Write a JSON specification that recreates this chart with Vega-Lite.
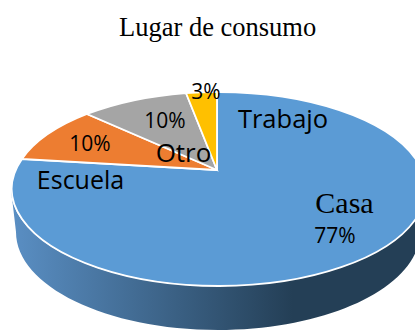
{"$schema":"https://vega.github.io/schema/vega-lite/v6.json","width":415,"height":331,"padding":0,"autosize":{"type":"none"},"background":"white","config":{"view":{"stroke":null}},"title":{"text":"Lugar de consumo","font":"Liberation Serif","fontSize":26.5,"fontWeight":"normal","color":"#000000","anchor":"start","frame":"group","dx":119,"dy":45},"data":{"values":[{"slice":"Casa","share":0.77},{"slice":"Escuela","share":0.10},{"slice":"Otro","share":0.10},{"slice":"Trabajo","share":0.03}]},"layer":[{"transform":[{"filter":"datum.slice==='Casa'"}],"mark":{"type":"point","filled":true,"opacity":1,"size":4,"shape":"M-196.5 23.5 L-191.5 66.5 A202 98 0 0 0 212.5 66.5 L217.5 23.5 A207 97 0 0 1 -196.5 23.5 Z","fill":{"gradient":"linear","x1":0,"y1":0,"x2":1,"y2":0,"stops":[{"offset":0,"color":"#5a8fc4"},{"offset":0.68,"color":"#243f56"},{"offset":1,"color":"#243f56"}]}}},{"mark":{"type":"point","filled":true,"opacity":1,"size":4,"stroke":"white","strokeWidth":1.8},"encoding":{"shape":{"field":"slice","type":"nominal","legend":null,"scale":{"domain":["Casa","Escuela","Otro","Trabajo"],"range":["M9.5 4.5 L9.5 -73.5 A207 97 0 1 1 -185.5 -6.5 Z","M9.5 4.5 L-185.5 -6.5 A207 97 0 0 1 -120.5 -51.5 Z","M9.5 4.5 L-120.5 -51.5 A207 97 0 0 1 -21.5 -72.5 Z","M9.5 4.5 L-21.5 -72.5 A207 97 0 0 1 9.5 -73.5 Z"]}},"fill":{"field":"slice","type":"nominal","legend":null,"scale":{"domain":["Casa","Escuela","Otro","Trabajo"],"range":["#5b9bd5","#ed7d31","#a5a5a5","#ffc000"]}}}},{"transform":[{"filter":"datum.slice==='Trabajo'"}],"mark":{"type":"text","font":"Open Sans","fontSize":25.5,"color":"#000000","dx":75.5,"dy":-45.5},"encoding":{"text":{"field":"slice"}}},{"transform":[{"filter":"datum.slice==='Casa'"}],"mark":{"type":"text","font":"Liberation Serif","fontSize":30,"color":"#000000","dx":137,"dy":38.5},"encoding":{"text":{"field":"slice"}}},{"transform":[{"filter":"datum.slice==='Escuela'"}],"mark":{"type":"text","font":"Open Sans","fontSize":25,"color":"#000000","dx":-127,"dy":15.5},"encoding":{"text":{"field":"slice"}}},{"transform":[{"filter":"datum.slice==='Otro'"}],"mark":{"type":"text","font":"Open Sans","fontSize":26,"color":"#000000","dx":-24,"dy":-11.5},"encoding":{"text":{"field":"slice"}}},{"transform":[{"filter":"datum.slice==='Casa'"}],"mark":{"type":"text","font":"Open Sans","fontSize":21,"color":"#000000","dx":127.5,"dy":71.5},"encoding":{"text":{"field":"share","format":".0%"}}},{"transform":[{"filter":"datum.slice==='Escuela'"}],"mark":{"type":"text","font":"Open Sans","fontSize":21,"color":"#000000","dx":-117.5,"dy":-20.5},"encoding":{"text":{"field":"share","format":".0%"}}},{"transform":[{"filter":"datum.slice==='Otro'"}],"mark":{"type":"text","font":"Open Sans","fontSize":21,"color":"#000000","dx":-42.5,"dy":-43.5},"encoding":{"text":{"field":"share","format":".0%"}}},{"transform":[{"filter":"datum.slice==='Trabajo'"}],"mark":{"type":"text","font":"Open Sans","fontSize":21,"color":"#000000","dx":-1.5,"dy":-72.5},"encoding":{"text":{"field":"share","format":".0%"}}}]}
